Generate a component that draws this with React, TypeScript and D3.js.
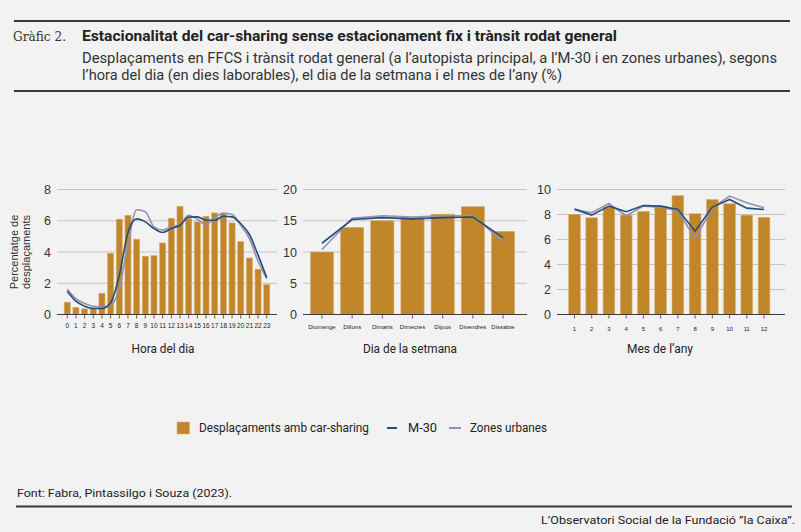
import { useEffect, useRef } from "react";
import * as d3 from "d3";

// --- data ---
const hours = d3.range(0, 24).map(String);
const hourBars = [0.79, 0.45, 0.36, 0.43, 1.36, 3.92, 6.1, 6.35, 4.82, 3.73, 3.77, 4.58, 6.16, 6.93, 6.14, 5.93, 6.29, 6.5, 6.46, 5.86, 4.67, 3.62, 2.9, 1.92];
const hourM30 = [1.49, 0.85, 0.53, 0.38, 0.38, 0.75, 2.5, 5.25, 6.12, 5.93, 5.5, 5.25, 5.5, 5.71, 6.23, 6.25, 6.03, 6.03, 6.29, 6.25, 5.82, 5.12, 3.8, 2.35];
const hourZones = [1.62, 1.02, 0.7, 0.53, 0.49, 0.6, 1.66, 4.54, 6.7, 6.57, 5.61, 5.4, 5.61, 5.76, 6.35, 6.1, 5.76, 6.18, 6.5, 6.4, 5.71, 4.86, 3.41, 2.3];

const days = ["Diumenge", "Dilluns", "Dimarts", "Dimecres", "Dijous", "Divendres", "Dissabte"];
const dayBars = [10, 13.95, 15.0, 15.5, 16.05, 17.26, 13.3];
const dayM30 = [11.4, 15.2, 15.5, 15.3, 15.5, 15.6, 12.3];
const dayZones = [10.4, 15.4, 15.8, 15.6, 15.8, 15.8, 11.7];

const months = d3.range(1, 13).map(String);
const monthBars = [8.0, 7.74, 8.59, 7.95, 8.24, 8.67, 9.5, 8.06, 9.2, 8.86, 7.95, 7.77];
const monthM30 = [8.43, 7.95, 8.67, 8.22, 8.72, 8.67, 8.4, 6.67, 8.59, 9.2, 8.51, 8.4];
const monthZones = [8.4, 8.14, 8.88, 7.9, 8.67, 8.59, 8.32, 6.06, 8.54, 9.47, 8.94, 8.54];

const hourTicks = [0, 2, 4, 6, 8];
const dayTicks = [0, 5, 10, 15, 20];
const monthTicks = [0, 2, 4, 6, 8, 10];

const BAR = "#c1862a";
const BAR_EDGE = "#d9b06e";
const M30 = "#1f5079";
const ZONES = "#9a8db0";
const SANS = "'Liberation Sans', Arial, sans-serif";
const HEAD = "Roboto, 'Noto Sans', sans-serif";

interface PanelSpec {
  cats: string[];
  bars: number[];
  m30: number[];
  zones: number[];
  ticks: number[];
  gridX: [number, number];
  barX: [number, number];
  padding: number;
  catFont: number;
  catY: number;
  title: string;
  titleX: number;
  titleW: number;
  smooth: boolean;
}

const panels: PanelSpec[] = [
  { cats: hours, bars: hourBars, m30: hourM30, zones: hourZones, ticks: hourTicks, gridX: [57, 277], barX: [61.6, 272.4], padding: 0.3, catFont: 6.5, catY: 328, title: "Hora del dia", titleX: 163, titleW: 63, smooth: true },
  { cats: days, bars: dayBars, m30: dayM30, zones: dayZones, ticks: dayTicks, gridX: [303, 527], barX: [303.4, 521.6], padding: 0.23, catFont: 6, catY: 329, title: "Dia de la setmana", titleX: 410, titleW: 94, smooth: false },
  { cats: months, bars: monthBars, m30: monthM30, zones: monthZones, ticks: monthTicks, gridX: [557, 785], barX: [563.1, 775.4], padding: 0.32, catFont: 6, catY: 331, title: "Mes de l\u2019any", titleX: 660, titleW: 66, smooth: false },
];

const Y0 = 314.5;
const Y1 = 189.5;

export default function App() {
  const ref = useRef<SVGSVGElement | null>(null);

  useEffect(() => {
    const svg = d3.select(ref.current);
    svg.selectAll("*").remove();

    svg.append("rect").attr("width", 801).attr("height", 532).attr("fill", "#f2f2f2");

    // header
    svg.append("line").attr("x1", 14).attr("x2", 790).attr("y1", 21).attr("y2", 21).attr("stroke", "#3a3a3a").attr("stroke-width", 2);
    svg.append("text").attr("x", 13).attr("y", 41).attr("font-family", "'DejaVu Serif', 'Liberation Serif', serif").attr("font-size", 12.5).attr("fill", "#333")
      .attr("textLength", 53).attr("lengthAdjust", "spacingAndGlyphs").text("Gràfic 2.");
    svg.append("text").attr("x", 82).attr("y", 41).attr("font-family", HEAD).attr("font-weight", 700).attr("font-size", 14).attr("fill", "#222")
      .attr("textLength", 535).attr("lengthAdjust", "spacingAndGlyphs")
      .text("Estacionalitat del car-sharing sense estacionament fix i trànsit rodat general");
    svg.append("text").attr("x", 82).attr("y", 62.5).attr("font-family", HEAD).attr("font-size", 14).attr("fill", "#333")
      .attr("textLength", 695).attr("lengthAdjust", "spacingAndGlyphs")
      .text("Desplaçaments en FFCS i trànsit rodat general (a l\u2019autopista principal, a l\u2019M-30 i en zones urbanes), segons");
    svg.append("text").attr("x", 82).attr("y", 79.5).attr("font-family", HEAD).attr("font-size", 14).attr("fill", "#333")
      .attr("textLength", 480).attr("lengthAdjust", "spacingAndGlyphs")
      .text("l\u2019hora del dia (en dies laborables), el dia de la setmana i el mes de l\u2019any (%)");
    svg.append("line").attr("x1", 14).attr("x2", 790).attr("y1", 91).attr("y2", 91).attr("stroke", "#3a3a3a").attr("stroke-width", 2);

    // y-axis title of first panel
    svg.append("text").attr("transform", "translate(18,252) rotate(-90)").attr("text-anchor", "middle")
      .attr("font-family", SANS).attr("font-size", 11).attr("fill", "#333").text("Percentatge de");
    svg.append("text").attr("transform", "translate(29.5,252) rotate(-90)").attr("text-anchor", "middle")
      .attr("font-family", SANS).attr("font-size", 11).attr("fill", "#333").text("desplaçaments");

    panels.forEach((p) => {
      const g = svg.append("g");
      const yMax = p.ticks[p.ticks.length - 1];
      const y = d3.scaleLinear().domain([0, yMax]).range([Y0, Y1]);
      const x = d3.scaleBand().domain(p.cats).range(p.barX).padding(p.padding);
      const xc = (c: string) => (x(c) ?? 0) + x.bandwidth() / 2;

      // grid + tick labels
      p.ticks.forEach((t) => {
        if (t > 0) {
          g.append("line").attr("x1", p.gridX[0]).attr("x2", p.gridX[1]).attr("y1", y(t)).attr("y2", y(t))
            .attr("stroke", "#c4c4c4").attr("stroke-width", 1);
        }
        g.append("text").attr("x", p.gridX[0] - 6).attr("y", y(t)).attr("dy", "0.36em").attr("text-anchor", "end")
          .attr("font-family", SANS).attr("font-size", 12.5).attr("fill", "#333").text(t);
      });

      // bars
      g.selectAll("rect.bar").data(p.bars).join("rect").attr("class", "bar")
        .attr("x", (_, i) => x(p.cats[i]) ?? 0)
        .attr("width", x.bandwidth())
        .attr("y", (d) => y(d))
        .attr("height", (d) => Y0 - y(d))
        .attr("fill", BAR).attr("stroke", BAR_EDGE).attr("stroke-width", 0.6);

      // baseline + ticks
      g.append("line").attr("x1", p.gridX[0]).attr("x2", p.gridX[1]).attr("y1", Y0).attr("y2", Y0)
        .attr("stroke", "#3d3d3d").attr("stroke-width", 1.2);
      p.cats.forEach((c) => {
        g.append("line").attr("x1", xc(c)).attr("x2", xc(c)).attr("y1", Y0).attr("y2", Y0 + 4)
          .attr("stroke", "#3d3d3d").attr("stroke-width", 0.8);
        g.append("text").attr("x", xc(c)).attr("y", p.catY).attr("text-anchor", "middle")
          .attr("font-family", SANS).attr("font-size", p.catFont).attr("fill", "#222").text(c);
      });

      // lines
      const line = d3.line<number>()
        .x((_, i) => xc(p.cats[i]))
        .y((d) => y(d))
        .curve(p.smooth ? d3.curveMonotoneX : d3.curveLinear);
      g.append("path").attr("d", line(p.zones)).attr("fill", "none").attr("stroke", ZONES).attr("stroke-width", 1.6);
      g.append("path").attr("d", line(p.m30)).attr("fill", "none").attr("stroke", M30).attr("stroke-width", 1.6);

      // panel title
      g.append("text").attr("x", p.titleX).attr("y", 353).attr("text-anchor", "middle")
        .attr("font-family", HEAD).attr("font-size", 12.5).attr("fill", "#222")
        .attr("textLength", p.titleW).attr("lengthAdjust", "spacingAndGlyphs").text(p.title);
    });

    // legend
    const lg = svg.append("g").attr("font-family", HEAD).attr("font-size", 12.5).attr("fill", "#222");
    lg.append("rect").attr("x", 177).attr("y", 422).attr("width", 12.5).attr("height", 12).attr("fill", BAR).attr("stroke", BAR_EDGE).attr("stroke-width", 0.6);
    lg.append("text").attr("x", 199).attr("y", 432).attr("textLength", 170).attr("lengthAdjust", "spacingAndGlyphs").text("Desplaçaments amb car-sharing");
    lg.append("line").attr("x1", 387).attr("x2", 397).attr("y1", 428).attr("y2", 428).attr("stroke", M30).attr("stroke-width", 2);
    lg.append("text").attr("x", 408).attr("y", 432).attr("textLength", 29).attr("lengthAdjust", "spacingAndGlyphs").text("M-30");
    lg.append("line").attr("x1", 449).attr("x2", 461).attr("y1", 428).attr("y2", 428).attr("stroke", ZONES).attr("stroke-width", 2);
    lg.append("text").attr("x", 470).attr("y", 432).attr("textLength", 77).attr("lengthAdjust", "spacingAndGlyphs").text("Zones urbanes");

    // footer
    svg.append("text").attr("x", 17).attr("y", 497).attr("font-family", HEAD).attr("font-size", 11.5).attr("fill", "#222")
      .attr("textLength", 215).attr("lengthAdjust", "spacingAndGlyphs").text("Font: Fabra, Pintassilgo i Souza (2023).");
    svg.append("line").attr("x1", 16).attr("x2", 792).attr("y1", 506.5).attr("y2", 506.5).attr("stroke", "#3a3a3a").attr("stroke-width", 2);
    svg.append("text").attr("x", 795).attr("y", 524).attr("text-anchor", "end").attr("font-family", HEAD).attr("font-size", 11.5).attr("fill", "#222")
      .attr("textLength", 254).attr("lengthAdjust", "spacingAndGlyphs").text("L\u2019Observatori Social de la Fundació \u201dla Caixa\u201d.");
  }, []);

  return (
    <svg
      ref={ref}
      width={801}
      height={532}
      style={{ position: "absolute", left: 0, top: 0, display: "block" }}
    />
  );
}
